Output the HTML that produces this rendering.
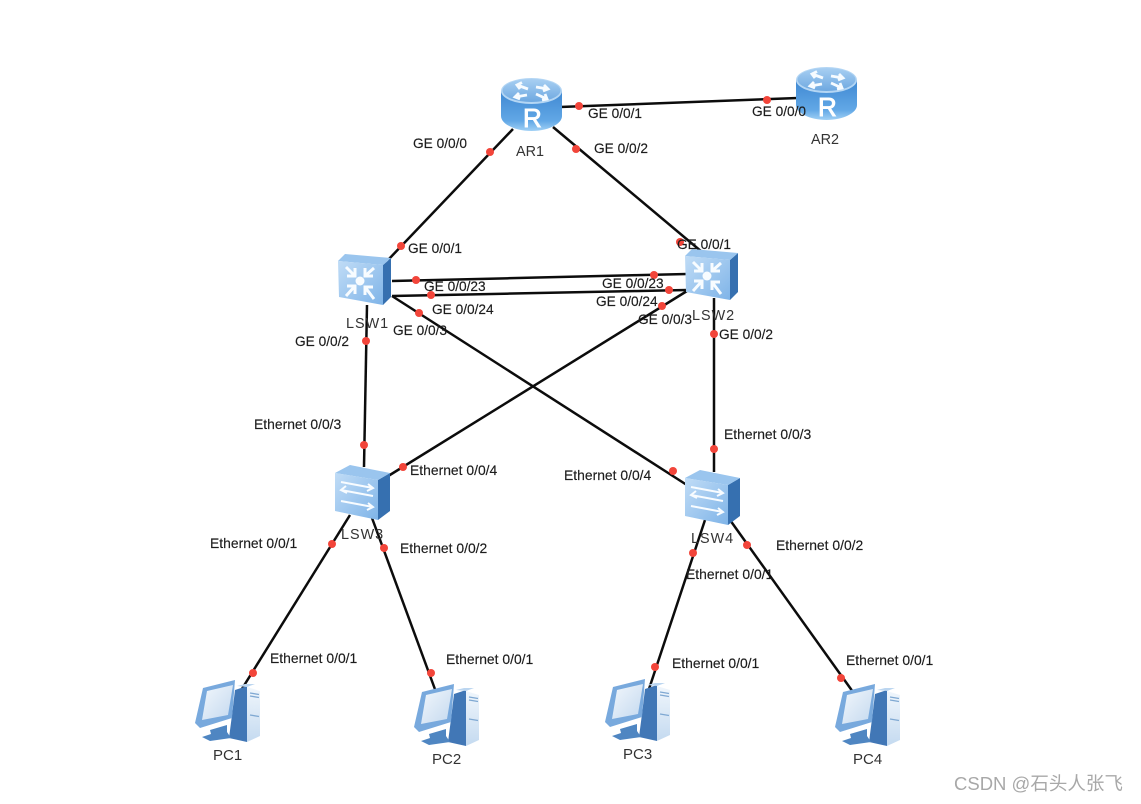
<!DOCTYPE html>
<html>
<head>
<meta charset="utf-8">
<style>
html,body{margin:0;padding:0;background:#fff;width:1141px;height:804px;overflow:hidden}
svg{display:block;filter:blur(0.35px)}
text{font-family:"Liberation Sans","Noto Sans CJK SC",sans-serif;font-size:13.7px;fill:#1c1c1c;stroke:#1c1c1c;stroke-width:.15}
text.e{font-size:13.9px}
.n{font-size:14.4px;fill:#333;stroke:none}
.w{font-size:18.5px;fill:#a8a8a8;stroke:none}
.r{font-size:26px;fill:#fff;stroke:#fff;stroke-width:.9}
</style>
</head>
<body>
<svg width="1141" height="804" viewBox="0 0 1141 804" xmlns="http://www.w3.org/2000/svg">
<defs>
<linearGradient id="rs" x1="0" x2="0" y1="0" y2="1"><stop offset="0" stop-color="#3f88d2"/><stop offset=".75" stop-color="#62a8e6"/><stop offset="1" stop-color="#a0d0f5"/></linearGradient>
<linearGradient id="rt" x1="0" x2="0" y1="0" y2="1"><stop offset="0" stop-color="#a8cff2"/><stop offset="1" stop-color="#6ea8e0"/></linearGradient>
<linearGradient id="sf" x1="0" x2="1" y1="0" y2="1"><stop offset="0" stop-color="#c0dcf6"/><stop offset="1" stop-color="#7fb4e8"/></linearGradient>
<linearGradient id="ps" x1="0" x2="0" y1="0" y2="1"><stop offset="0" stop-color="#f0f6fc"/><stop offset="1" stop-color="#c4daf0"/></linearGradient>
<linearGradient id="scr" x1="0" x2="1" y1="0" y2="1"><stop offset="0" stop-color="#f2f7fc"/><stop offset="1" stop-color="#c4d9ef"/></linearGradient>
<g id="router">
<path d="M0 13V38C0 46 14 53 30.500 53S61 46 61 38V13Z" fill="url(#rs)"/>
<ellipse cx="30.500" cy="13" rx="30.500" ry="13" fill="#b4d6f4"/>
<ellipse cx="30.500" cy="12.500" rx="29" ry="11.500" fill="url(#rt)"/>
<g stroke="#f6fbff" stroke-width="2.800" fill="none">
<path d="M27 11L16 7M21 4.500L16 7L19 11"/>
<path d="M35 9L47 11M43 7L47 11L42 13"/>
<path d="M26 17L14 19M18 15L14 19L19 21"/>
<path d="M35 16L46 21M41 22L46 21L44 16"/>
</g>
</g>
<g id="core">
<path d="M45 12L53 5V44L45 52Z" fill="#3670b0"/>
<path d="M0 8L7 1L53 5L45 12Z" fill="#9ac5ee"/>
<path d="M0 8L45 12V52L1 44Z" fill="url(#sf)"/>
<g stroke="#f8fcff" stroke-width="3" fill="none">
<path d="M8 14L17 23M9 23H17V15"/>
<path d="M36 15L27 23M35 23H27V15"/>
<path d="M8 43L17 33M9 33H17V41"/>
<path d="M36 46L27 34M35 34H27V42"/>
</g>
<circle cx="22" cy="28" r="4.500" fill="#f8fcff"/>
</g>
<g id="l2">
<path d="M43 15L55 8V46L43 55Z" fill="#3670b0"/>
<path d="M0 8L15 0L55 8L43 15Z" fill="#9ac5ee"/>
<path d="M0 8L43 15V55L0 46Z" fill="url(#sf)"/>
<g stroke="#f8fcff" stroke-width="2" fill="none">
<path d="M6 17L38 23M33 19l5 4-6 3"/>
<path d="M38 31L6 25M11 21l-5 4 6 3"/>
<path d="M6 36L38 42M33 38l5 4-6 3"/>
</g>
</g>
<g id="pc">
<path d="M40 9L52 5V61L34 57L37 34Z" fill="#4177b6"/>
<path d="M52 6L65 10V55L52 61Z" fill="url(#ps)"/>
<path d="M42 5L50 3H60L52 6Z" fill="#bcd6f0"/>
<path d="M55 12l9 1.500M55 15l9 1.500M55 34l9 1.500" stroke="#7fa8d2" stroke-width="1.300"/>
<path d="M8 7L40 -1L37 37L5 47L0 42Z" fill="#78a9dd"/>
<path d="M12 10L38 4L33 34L7 39Z" fill="url(#scr)"/>
<path d="M15 49L32 44V51L36 57L15 60L7 56L16 53Z" fill="#4f86c2"/>
</g>
</defs>

<g stroke="#0c0c0c" stroke-width="2.500" fill="none">
<line x1="560" y1="107" x2="798" y2="98"/>
<line x1="513" y1="129" x2="388" y2="260"/>
<line x1="553" y1="127" x2="702" y2="252"/>
<line x1="392" y1="281" x2="687" y2="274"/>
<line x1="392" y1="296" x2="687" y2="290"/>
<line x1="392" y1="296" x2="690" y2="487"/>
<line x1="687" y1="291" x2="385" y2="478"/>
<line x1="367" y1="305" x2="364" y2="467"/>
<line x1="714" y1="298" x2="714" y2="472"/>
<line x1="350" y1="515" x2="240" y2="692"/>
<line x1="372" y1="518" x2="436" y2="692"/>
<line x1="705" y1="520" x2="648" y2="692"/>
<line x1="730" y1="520" x2="853" y2="692"/>
</g>

<use href="#router" x="501" y="78"/>
<use href="#router" x="796" y="67"/>
<text class="r" x="523" y="127">R</text>
<text class="r" x="818" y="116">R</text>
<use href="#core" x="338" y="253"/>
<use href="#core" x="685" y="248"/>
<use href="#l2" x="335" y="465"/>
<use href="#l2" x="685" y="470"/>
<use href="#pc" x="195" y="681"/>
<use href="#pc" x="414" y="685"/>
<use href="#pc" x="605" y="680"/>
<use href="#pc" x="835" y="685"/>

<g fill="#f2453a">
<circle cx="579" cy="106" r="4"/><circle cx="767" cy="100" r="4"/>
<circle cx="490" cy="152" r="4"/><circle cx="401" cy="246" r="4"/>
<circle cx="576" cy="149" r="4"/><circle cx="680" cy="242" r="4"/>
<circle cx="416" cy="280" r="4"/><circle cx="654" cy="275" r="4"/>
<circle cx="431" cy="295" r="4"/><circle cx="669" cy="290" r="4"/>
<circle cx="419" cy="313" r="4"/><circle cx="673" cy="471" r="4"/>
<circle cx="662" cy="306" r="4"/><circle cx="403" cy="467" r="4"/>
<circle cx="366" cy="341" r="4"/><circle cx="364" cy="445" r="4"/>
<circle cx="714" cy="334" r="4"/><circle cx="714" cy="449" r="4"/>
<circle cx="332" cy="544" r="4"/><circle cx="253" cy="673" r="4"/>
<circle cx="384" cy="548" r="4"/><circle cx="431" cy="673" r="4"/>
<circle cx="693" cy="553" r="4"/><circle cx="655" cy="667" r="4"/>
<circle cx="747" cy="545" r="4"/><circle cx="841" cy="678" r="4"/>
</g>

<text x="588" y="118">GE 0/0/1</text>
<text x="752" y="116">GE 0/0/0</text>
<text x="413" y="148">GE 0/0/0</text>
<text x="594" y="153">GE 0/0/2</text>
<text x="408" y="253">GE 0/0/1</text>
<text x="677" y="249">GE 0/0/1</text>
<text x="424" y="291">GE 0/0/23</text>
<text x="432" y="314">GE 0/0/24</text>
<text x="393" y="335">GE 0/0/3</text>
<text x="295" y="346">GE 0/0/2</text>
<text x="602" y="288">GE 0/0/23</text>
<text x="596" y="306">GE 0/0/24</text>
<text x="638" y="324">GE 0/0/3</text>
<text x="719" y="339">GE 0/0/2</text>
<text class="e" x="254" y="429">Ethernet 0/0/3</text>
<text class="e" x="724" y="439">Ethernet 0/0/3</text>
<text class="e" x="410" y="475">Ethernet 0/0/4</text>
<text class="e" x="564" y="480">Ethernet 0/0/4</text>
<text class="e" x="210" y="548">Ethernet 0/0/1</text>
<text class="e" x="400" y="553">Ethernet 0/0/2</text>
<text class="e" x="776" y="550">Ethernet 0/0/2</text>
<text class="e" x="686" y="579">Ethernet 0/0/1</text>
<text class="e" x="270" y="663">Ethernet 0/0/1</text>
<text class="e" x="446" y="664">Ethernet 0/0/1</text>
<text class="e" x="672" y="668">Ethernet 0/0/1</text>
<text class="e" x="846" y="665">Ethernet 0/0/1</text>

<text class="n" x="516" y="156">AR1</text>
<text class="n" x="811" y="144">AR2</text>
<text class="n" x="346" y="328" style="letter-spacing:1px">LSW1</text>
<text class="n" x="692" y="320" style="letter-spacing:1px">LSW2</text>
<text class="n" x="341" y="539" style="letter-spacing:1px">LSW3</text>
<text class="n" x="691" y="543" style="letter-spacing:1px">LSW4</text>
<text class="n" x="213" y="760" style="font-size:15px">PC1</text>
<text class="n" x="432" y="764" style="font-size:15px">PC2</text>
<text class="n" x="623" y="759" style="font-size:15px">PC3</text>
<text class="n" x="853" y="764" style="font-size:15px">PC4</text>

<text class="w" x="954" y="790">CSDN @石头人张飞</text>
</svg>
</body>
</html>
